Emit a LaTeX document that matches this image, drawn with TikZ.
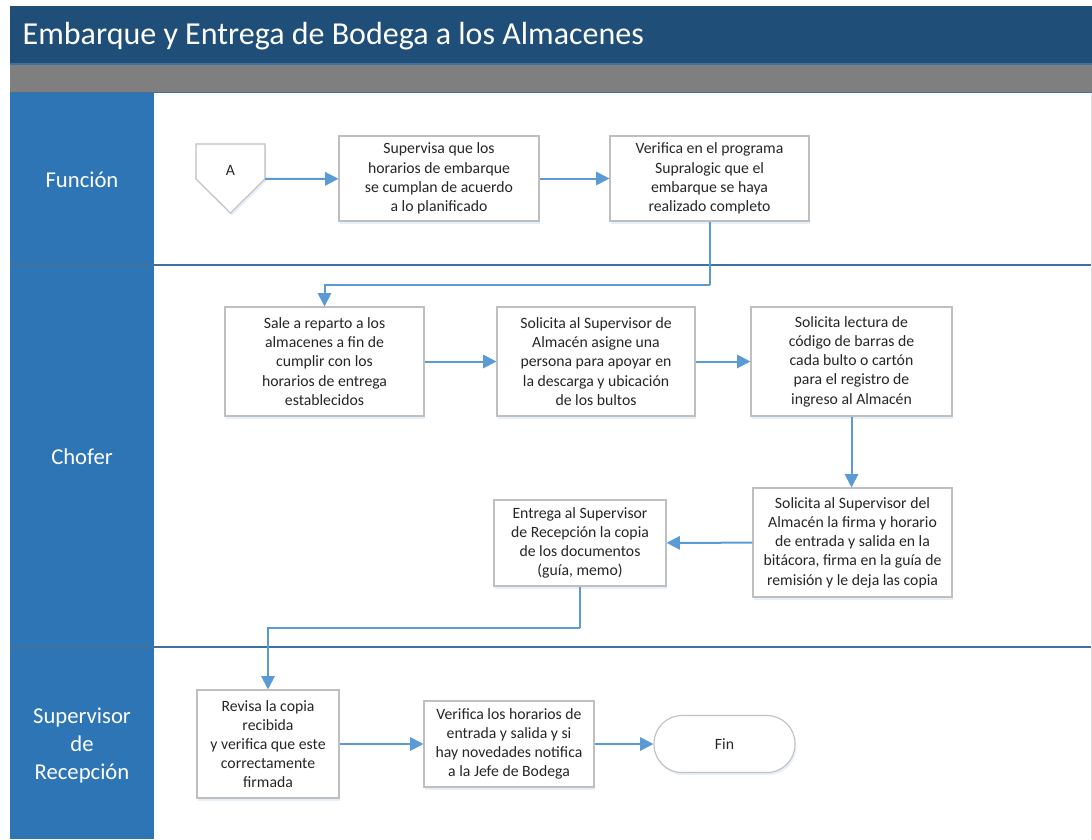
\documentclass[tikz,border=0pt]{standalone}
\usepackage{fontspec}
\setmainfont{Carlito}
\usepackage{tikz}
\usetikzlibrary{arrows.meta,positioning,shadows}
\definecolor{titleblue}{HTML}{1F4E79}
\definecolor{bandgray}{HTML}{7F7F7F}
\definecolor{laneblue}{HTML}{2E75B6}
\definecolor{lineblue}{HTML}{41719C}
\definecolor{flowblue}{HTML}{5B9BD5}
\definecolor{boxgray}{HTML}{BFBFBF}
\definecolor{textdark}{HTML}{262626}
\tikzset{
  boxshadow/.style={drop shadow={shadow xshift=1pt,shadow yshift=-2pt,fill=flowblue!25,opacity=0.6}},
  proc/.style={draw=boxgray,thick,fill=white,align=center,text=textdark,
    font=\fontsize{11.8}{14.4}\selectfont,inner sep=2pt,boxshadow},
  lanelbl/.style={text=white,align=center,font=\fontsize{17}{21}\selectfont},
  flow/.style={draw=flowblue,line width=1.5pt,-{Triangle[length=10pt,width=10pt]}},
  link/.style={draw=flowblue,line width=1.5pt},
}

\begin{document}
\begin{tikzpicture}[x=0.75pt,y=-0.75pt]
\useasboundingbox (0,0) rectangle (1092,839);
% pool and lanes
\fill[titleblue] (10,6) rectangle (1092,64);
\fill[bandgray] (10,64) rectangle (1092,92);
\draw[lineblue,thick] (10,64) -- (1092,64);
\draw[lineblue,thick] (10,92.5) -- (1092,92.5);
\fill[laneblue] (10,93) rectangle (154,839);
\draw[lineblue,line width=1.5pt] (10,265) -- (1092,265);
\draw[lineblue,line width=1.5pt] (10,647) -- (1092,647);
\draw[boxgray!50] (1091.5,93) -- (1091.5,839);
%
\node (title) [anchor=west,text=white,font=\fontsize{24}{28}\selectfont] at (18,36) {Embarque y Entrega de Bodega a los Almacenes};
\node (fun) [lanelbl] at (82,180) {Función};
\node (cho) [lanelbl] at (82,457) {Chofer};
\node (rec) [lanelbl] at (82,746) {Supervisor\\de\\Recepción};
% Funcion
\draw[draw=boxgray,thick,fill=white,boxshadow] (196,144) -- (265,144) -- (265,179) -- (230.5,213) -- (196,179) -- cycle;
\node (A) [text=textdark,font=\fontsize{11.8}{14.4}\selectfont] at (230.5,170) {A};
\coordinate (Aout) at (265,179);
\node (sup) [proc,minimum width=150pt,minimum height=63.75pt] at (439,178.5)
  {Supervisa que los\\horarios de embarque\\se cumplan de acuerdo\\a lo planificado};
\node (prog) [proc,minimum width=149.25pt,minimum height=63.75pt] at (709.5,178.5)
  {Verifica en el programa\\Supralogic que el\\embarque se haya\\realizado completo};
% Chofer
\node (sale) [proc,minimum width=149.25pt,minimum height=81.75pt] at (324.5,361.5)
  {Sale a reparto a los\\almacenes a fin de\\cumplir con los\\horarios de entrega\\establecidos};
\node (asig) [proc,minimum width=148.5pt,minimum height=81.75pt] at (596,361.5)
  {Solicita al Supervisor de\\Almacén asigne una\\persona para apoyar en\\la descarga y ubicación\\de los bultos};
\node (lect) [proc,minimum width=150.75pt,minimum height=81.75pt] at (851.5,361.5)
  {Solicita lectura de\\código de barras de\\cada bulto o cartón\\para el registro de\\ingreso al Almacén};
\node (firma) [proc,minimum width=149.25pt,minimum height=81.75pt] at (852.5,542.5)
  {Solicita al Supervisor del\\Almacén la firma y horario\\de entrada y salida en la\\bitácora, firma en la guía de\\remisión y le deja las copia};
\node (ent) [proc,minimum width=129pt,minimum height=64.5pt] at (580,543)
  {Entrega al Supervisor\\de Recepción la copia\\de los documentos\\(guía, memo)};
% Supervisor de Recepcion
\node (rev) [proc,minimum width=106.5pt,minimum height=81pt] at (268,744)
  {Revisa la copia\\recibida\\y verifica que este\\correctamente\\firmada};
\node (hor) [proc,minimum width=127.5pt,minimum height=64.5pt] at (509,744)
  {Verifica los horarios de\\entrada y salida y si\\hay novedades notifica\\a la Jefe de Bodega};
\node (fin) [proc,rounded corners=21pt,minimum width=105.75pt,minimum height=42.75pt] at (724.5,744) {Fin};
%
\coordinate (k1) at (709.5,285);
\coordinate (k2) at (580,628);
\draw[flow] (Aout) -- (sup);
\draw[flow] (sup) -- (prog);
\draw[link] (prog.south) -- (k1);
\draw[flow] (k1) -| (sale.north);
\draw[flow] (sale) -- (asig);
\draw[flow] (asig) -- (lect);
\draw[flow] (lect.south) -- (lect.south |- firma.north);
\draw[flow] (firma) -- (ent);
\draw[link] (ent.south) -- (k2);
\draw[flow] (k2) -| (rev.north);
\draw[flow] (rev) -- (hor);
\draw[flow] (hor) -- (fin);
\end{tikzpicture}
\end{document}
